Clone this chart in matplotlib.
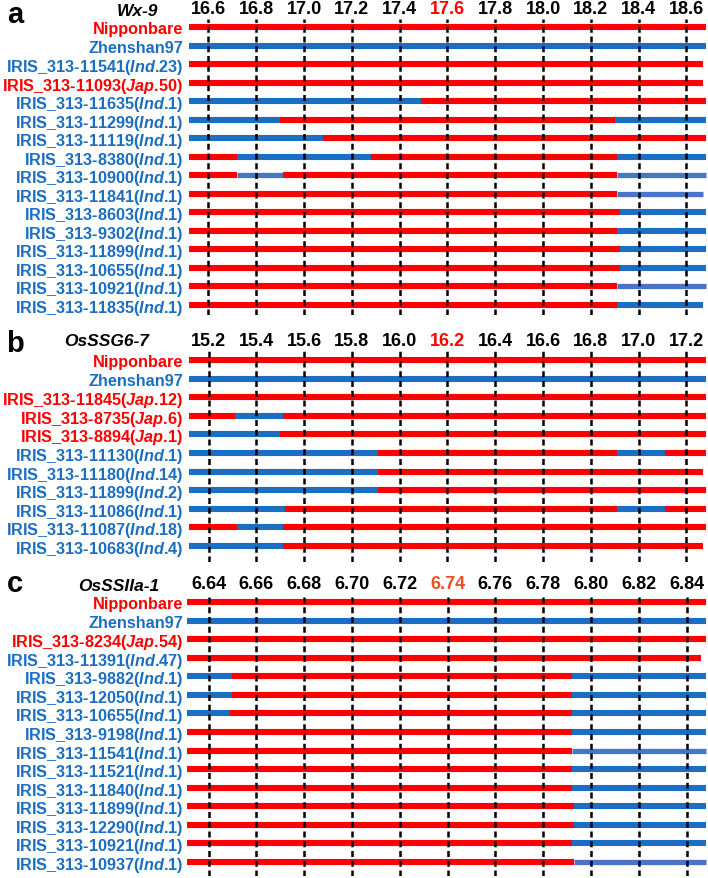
import matplotlib
matplotlib.use("Agg")
import matplotlib.pyplot as plt

plt.rcParams['font.family'] = ['Liberation Sans', 'DejaVu Sans']
plt.rcParams['font.weight'] = 'bold'
plt.rcParams['mathtext.fontset'] = 'custom'
plt.rcParams['mathtext.it'] = 'Liberation Sans:italic:bold'
plt.rcParams['mathtext.rm'] = 'Liberation Sans:bold'
plt.rcParams['mathtext.bf'] = 'Liberation Sans:bold'

RED = '#FF0000'
BLUE = '#1B6EC2'
LIGHT = '#4A74C6'
COLORS = {'N': RED, 'Z': BLUE, 'L': LIGHT}

# ---------------- data ----------------
a_gene = 'Wx-9'
a_ticks = [16.6, 16.8, 17.0, 17.2, 17.4, 17.6, 17.8, 18.0, 18.2, 18.4, 18.6]
a_highlight = 17.6
a_names = ['Nipponbare', 'Zhenshan97', 'IRIS_313-11541', 'IRIS_313-11093', 'IRIS_313-11635',
           'IRIS_313-11299', 'IRIS_313-11119', 'IRIS_313-8380', 'IRIS_313-10900', 'IRIS_313-11841',
           'IRIS_313-8603', 'IRIS_313-9302', 'IRIS_313-11899', 'IRIS_313-10655', 'IRIS_313-10921',
           'IRIS_313-11835']
a_groups = ['', '', 'Ind.23', 'Jap.50', 'Ind.1', 'Ind.1', 'Ind.1', 'Ind.1', 'Ind.1', 'Ind.1',
            'Ind.1', 'Ind.1', 'Ind.1', 'Ind.1', 'Ind.1', 'Ind.1']
a_bounds = [
    [16.52, 18.68], [16.52, 18.68], [16.52, 18.67], [16.52, 18.67],
    [16.52, 17.49, 18.68], [16.52, 16.90, 18.30, 18.68], [16.52, 17.08, 18.68],
    [16.52, 16.72, 17.28, 18.31, 18.68], [16.52, 16.72, 16.91, 18.31, 18.68],
    [16.52, 18.31, 18.67], [16.52, 18.32, 18.68], [16.52, 18.31, 18.68],
    [16.52, 18.32, 18.68], [16.52, 18.32, 18.68], [16.52, 18.31, 18.68],
    [16.52, 18.31, 18.67]]
a_states = [['N'], ['Z'], ['N'], ['N'], ['Z', 'N'], ['Z', 'N', 'Z'], ['Z', 'N'],
            ['N', 'Z', 'N', 'Z'], ['N', 'L', 'N', 'L'], ['N', 'L'], ['N', 'Z'], ['N', 'Z'],
            ['N', 'Z'], ['N', 'Z'], ['N', 'L'], ['N', 'Z']]

b_gene = 'OsSSG6-7'
b_ticks = [15.2, 15.4, 15.6, 15.8, 16.0, 16.2, 16.4, 16.6, 16.8, 17.0, 17.2]
b_highlight = 16.2
b_names = ['Nipponbare', 'Zhenshan97', 'IRIS_313-11845', 'IRIS_313-8735', 'IRIS_313-8894',
           'IRIS_313-11130', 'IRIS_313-11180', 'IRIS_313-11899', 'IRIS_313-11086',
           'IRIS_313-11087', 'IRIS_313-10683']
b_groups = ['', '', 'Jap.12', 'Jap.6', 'Jap.1', 'Ind.1', 'Ind.14', 'Ind.2', 'Ind.1', 'Ind.18',
            'Ind.4']
b_bounds = [
    [15.12, 17.28], [15.12, 17.28], [15.12, 17.28], [15.12, 15.31, 15.51, 17.28],
    [15.12, 15.50, 17.28], [15.12, 15.91, 16.91, 17.11, 17.28], [15.12, 15.91, 17.27],
    [15.12, 15.91, 17.28], [15.12, 15.52, 16.91, 17.11, 17.28], [15.12, 15.32, 15.51, 17.28],
    [15.12, 15.51, 17.27]]
b_states = [['N'], ['Z'], ['N'], ['N', 'Z', 'N'], ['Z', 'N'], ['Z', 'N', 'Z', 'N'], ['Z', 'N'],
            ['Z', 'N'], ['Z', 'N', 'Z', 'N'], ['N', 'Z', 'N'], ['Z', 'N']]

c_gene = 'OsSSIIa-1'
c_ticks = [6.64, 6.66, 6.68, 6.70, 6.72, 6.74, 6.76, 6.78, 6.80, 6.82, 6.84]
c_highlight = 6.74
c_names = ['Nipponbare', 'Zhenshan97', 'IRIS_313-8234', 'IRIS_313-11391', 'IRIS_313-9882',
           'IRIS_313-12050', 'IRIS_313-10655', 'IRIS_313-9198', 'IRIS_313-11541',
           'IRIS_313-11521', 'IRIS_313-11840', 'IRIS_313-11899', 'IRIS_313-12290',
           'IRIS_313-10921', 'IRIS_313-10937']
c_groups = ['', '', 'Jap.54', 'Ind.47', 'Ind.1', 'Ind.1', 'Ind.1', 'Ind.1', 'Ind.1', 'Ind.1',
            'Ind.1', 'Ind.1', 'Ind.1', 'Ind.1', 'Ind.1']
c_bounds = [
    [6.631, 6.848], [6.631, 6.848], [6.631, 6.848], [6.631, 6.846],
    [6.631, 6.650, 6.792, 6.848], [6.631, 6.650, 6.792, 6.848], [6.631, 6.649, 6.792, 6.848],
    [6.631, 6.792, 6.848], [6.631, 6.792, 6.848], [6.631, 6.792, 6.848], [6.631, 6.792, 6.848],
    [6.631, 6.793, 6.848], [6.631, 6.793, 6.848], [6.631, 6.792, 6.848], [6.631, 6.793, 6.848]]
c_states = [['N'], ['Z'], ['N'], ['N'], ['Z', 'N', 'Z'], ['Z', 'N', 'Z'], ['Z', 'N', 'Z'],
            ['N', 'Z'], ['N', 'L'], ['N', 'Z'], ['N', 'Z'], ['N', 'Z'], ['N', 'Z'], ['N', 'Z'],
            ['N', 'L']]

# ---------------- layout ----------------
W, H = 708, 879
fig = plt.figure(figsize=(W / 100, H / 100), dpi=100)

AX_L, AX_R = 186, 708
TICK0_PX, TICK1_PX = 208.5, 686.5


def label_text(name, group):
    if not group:
        return name
    g, num = group.split('.')
    return name + '($\\mathit{' + g + '}$.' + num + ')'


def label_color(name, group):
    if name == 'Nipponbare' or group.startswith('Jap'):
        return RED
    return BLUE


def panel(letter, gene, ticks, highlight, hl_color, names, groups, bounds, states,
          top_px, bot_px, row0_px, row_dy, gene_x, gene_base, letter_base):
    ax = fig.add_axes([AX_L / W, 1 - bot_px / H, (AX_R - AX_L) / W, (bot_px - top_px) / H])
    per_px = (ticks[-1] - ticks[0]) / (TICK1_PX - TICK0_PX)
    ax.set_xlim(ticks[0] - (TICK0_PX - AX_L) * per_px, ticks[-1] + (AX_R - TICK1_PX) * per_px)
    n = len(names)
    ax.set_ylim(n - 1 + (bot_px - (row0_px + (n - 1) * row_dy)) / row_dy,
                -(row0_px - top_px) / row_dy)
    for s in ax.spines.values():
        s.set_visible(False)
    ax.set_facecolor('none')

    for i, (b, st) in enumerate(zip(bounds, states)):
        for j, code in enumerate(st):
            lw = 3.8 if code == 'L' else 4.4
            ax.hlines(i, b[j], b[j + 1], colors=COLORS[code], linewidth=lw,
                      capstyle='butt', zorder=2)

    for t in ticks:
        ax.axvline(t, color='black', linewidth=1.8, linestyle=(0, (2.4, 1.5)), zorder=3)

    ax.xaxis.tick_top()
    ax.set_xticks(ticks)
    ax.set_xticklabels([f'{t:.1f}' if t > 10 else f'{t:.2f}' for t in ticks],
                       fontsize=13, fontweight='bold')
    for lab, t in zip(ax.get_xticklabels(), ticks):
        if abs(t - highlight) < 1e-9:
            lab.set_color(hl_color)
    ax.tick_params(axis='x', length=0, pad=1.5)

    ax.set_yticks(range(n))
    ax.set_yticklabels([label_text(nm, g) for nm, g in zip(names, groups)],
                       fontsize=11.7, fontweight='bold')
    for lab, nm, g in zip(ax.get_yticklabels(), names, groups):
        lab.set_color(label_color(nm, g))
    ax.tick_params(axis='y', length=0, pad=2.2)

    fig.text(gene_x / W, 1 - gene_base / H, gene, fontsize=12.5, fontweight='bold',
             fontstyle='italic', ha='center', va='baseline')
    fig.text(15 / W, 1 - letter_base / H, letter, fontsize=21, fontweight='bold',
             ha='center', va='baseline')


panel('a', a_gene, a_ticks, a_highlight, RED, a_names, a_groups, a_bounds, a_states,
      20, 316, 28, 18.53, 137, 16, 23)
panel('b', b_gene, b_ticks, b_highlight, RED, b_names, b_groups, b_bounds, b_states,
      352, 563, 361, 18.6, 107, 346, 352)
panel('c', c_gene, c_ticks, c_highlight, '#F04E23', c_names, c_groups, c_bounds, c_states,
      595, 877, 603, 18.57, 119, 591, 592)

fig.savefig('out.png', dpi=100)
